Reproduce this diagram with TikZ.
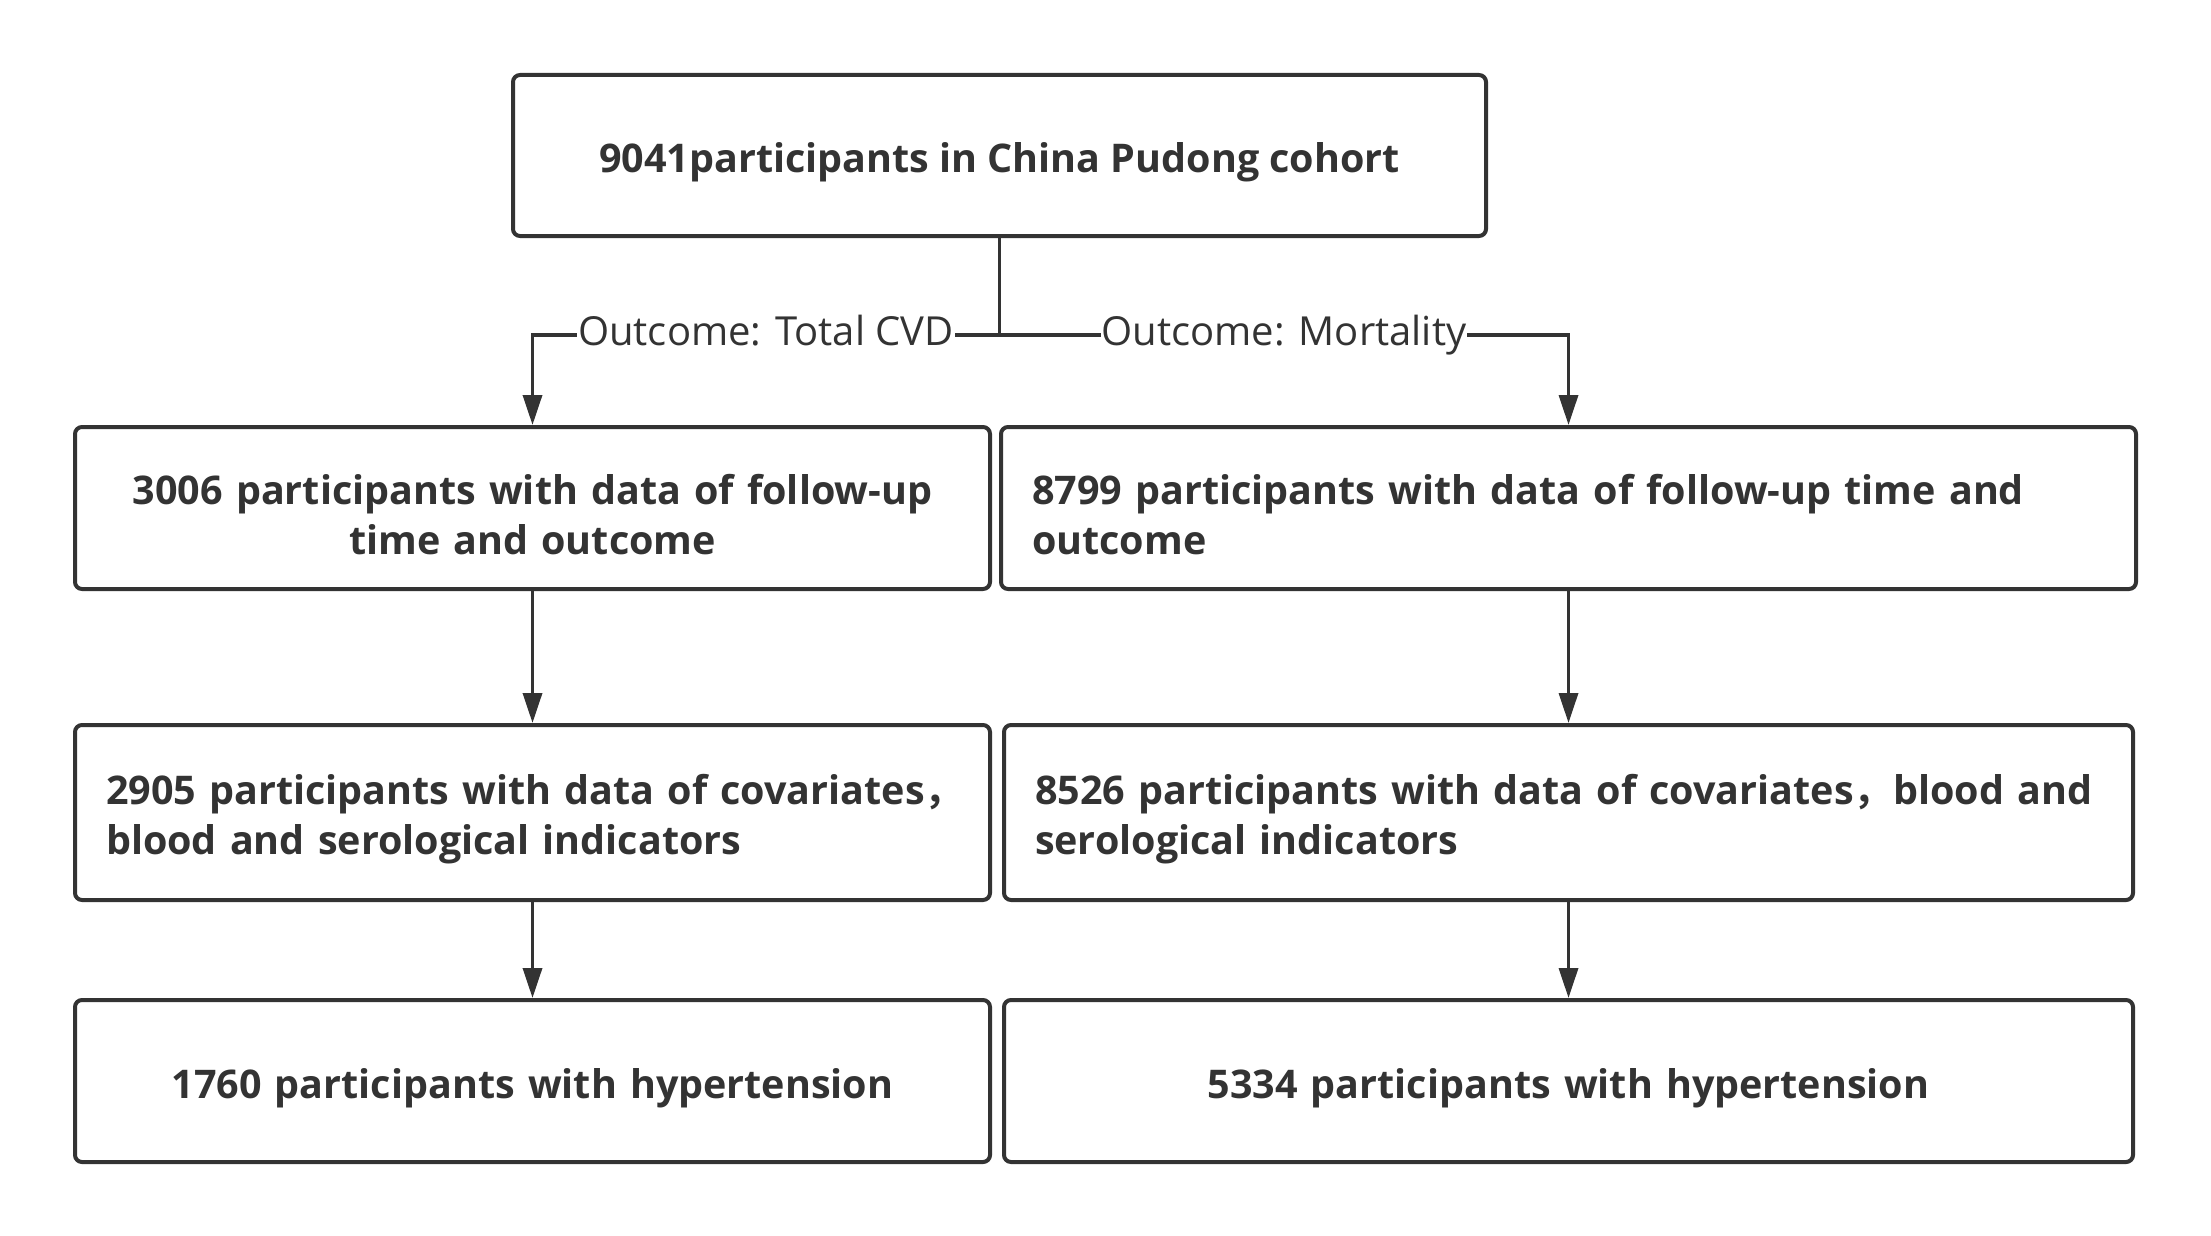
\documentclass[tikz,border=0pt]{standalone}
\usepackage{fontspec}
\setmainfont{Open Sans}
\newfontfamily\cjk{Noto Sans CJK SC}[BoldFont={Noto Sans CJK SC Bold}]
\usetikzlibrary{arrows.meta}
\definecolor{ink}{HTML}{333333}
\newcommand{\tstrut}{\rule{0pt}{44pt}}
\begin{document}
\begin{tikzpicture}[x=1pt,y=-1pt,
  box/.style={draw=ink,line width=4pt,rounded corners=7pt,text=ink,
    font=\fontsize{39.5}{50}\selectfont\bfseries,inner xsep=31pt,inner ysep=0pt},
  conn/.style={draw=ink,line width=3.5pt},
  arr/.style={conn,-{Triangle[length=30pt,width=19pt]}},
  lab/.style={fill=white,text=ink,font=\fontsize{40}{46}\selectfont,inner xsep=1pt,inner ysep=2pt,
    text height=30pt,text depth=9pt}]
\path[use as bounding box] (0,0) rectangle (2211,1236);
\node[box,minimum width=973pt,minimum height=161pt,align=center] (top) at (999.5,155.5)
  {\tstrut 9041participants in China Pudong cohort};
\node[box,minimum width=915pt,minimum height=162pt,text width=853pt,align=center] (l2) at (532.5,508)
  {\mbox{\tstrut 3006 participants with data of follow-up}\\time and outcome};
\node[box,minimum width=1135pt,minimum height=162pt,text width=1073pt,align=left] (r2) at (1568.5,508)
  {\mbox{\tstrut 8799 participants with data of follow-up time and}\\outcome};
\node[box,minimum width=915pt,minimum height=175pt,text width=853pt,align=left] (l3) at (532.5,812.5)
  {\mbox{\tstrut 2905 participants with data of covariates{\cjk ，}}\\blood and serological indicators};
\node[box,minimum width=1129pt,minimum height=175pt,text width=1067pt,align=left] (r3) at (1568.5,812.5)
  {\mbox{\tstrut 8526 participants with data of covariates{\cjk ，}blood and}\\serological indicators};
\node[box,minimum width=915pt,minimum height=162pt,text width=853pt,align=center] (l4) at (532.5,1081)
  {\tstrut 1760 participants with hypertension};
\node[box,minimum width=1129pt,minimum height=162pt,text width=1067pt,align=center] (r4) at (1568.5,1081)
  {\tstrut 5334 participants with hypertension};
\draw[conn] (top.south) -- ++(0,97) coordinate (br);
\draw[arr] (br) -| node[lab,pos=0.25] (lt) {Outcome: Total CVD} (l2.north);
\draw[arr] (br) -| node[lab,pos=0.25] (lm) {Outcome: Mortality} (r2.north);
\draw[arr] (l2.south) -- (l3.north);
\draw[arr] (r2.south) -- (r3.north);
\draw[arr] (l3.south) -- (l4.north);
\draw[arr] (r3.south) -- (r4.north);
\end{tikzpicture}
\end{document}
